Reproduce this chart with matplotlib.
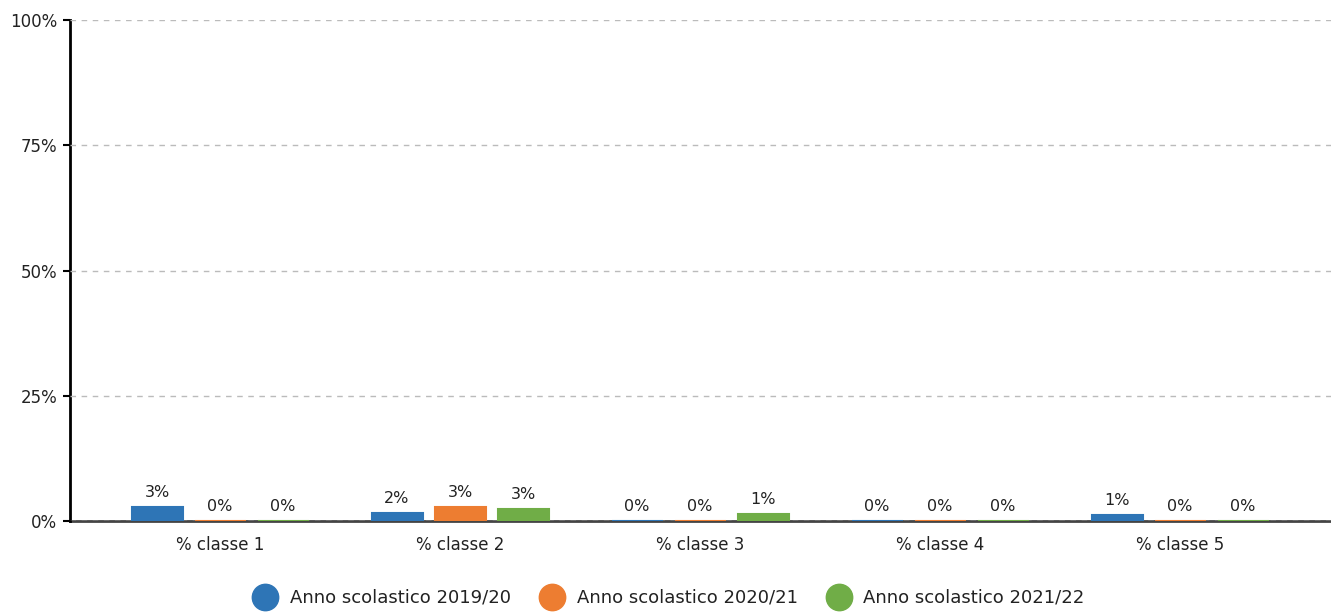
import matplotlib
matplotlib.use("Agg")
import matplotlib.pyplot as plt
from matplotlib.lines import Line2D
import numpy as np

categories = ["% classe 1", "% classe 2", "% classe 3", "% classe 4", "% classe 5"]
series_names = ["Anno scolastico 2019/20", "Anno scolastico 2020/21", "Anno scolastico 2021/22"]
values_2019 = [2.8, 1.6, 0, 0, 1.2]
values_2020 = [0, 2.8, 0, 0, 0]
values_2021 = [0, 2.4, 1.4, 0, 0]
labels_2019 = ["3%", "2%", "0%", "0%", "1%"]
labels_2020 = ["0%", "3%", "0%", "0%", "0%"]
labels_2021 = ["0%", "3%", "1%", "0%", "0%"]
yticks = [0, 25, 50, 75, 100]
ytick_labels = ["0%", "25%", "50%", "75%", "100%"]
colors = ["#2E75B6", "#ED7D31", "#70AD47"]

plt.rcParams['font.family'] = ['DejaVu Sans']
fig = plt.figure(figsize=(13.31, 6.12), dpi=100)
W, H = 1331, 612
ax = fig.add_axes([70 / W, 1 - 521 / H, (1331 - 70) / W, (521 - 20) / H])

x = np.arange(len(categories))
bw = 0.2125
step = 0.2625
all_vals = [values_2019, values_2020, values_2021]
all_labels = [labels_2019, labels_2020, labels_2021]
for i, (vals, labs, c) in enumerate(zip(all_vals, all_labels, colors)):
    pos = x + (i - 1) * step
    bars = ax.bar(pos, vals, width=bw, color=c, edgecolor=c, linewidth=1.5, zorder=3)
    for b, lab in zip(bars, labs):
        ax.annotate(lab, (b.get_x() + b.get_width() / 2, b.get_height()),
                    xytext=(0, 5), textcoords="offset points",
                    ha="center", va="bottom", fontsize=11.5, color="#222222", zorder=4)

ax.set_xlim(-0.625, 4.629)
ax.set_ylim(0, 100)
ax.set_yticks(yticks)
ax.set_yticklabels(ytick_labels, fontsize=12, color="#222222")
ax.set_xticks(x)
ax.set_xticklabels(categories, fontsize=12, color="#222222")
ax.tick_params(axis="x", length=0, pad=11)
ax.tick_params(axis="y", length=5, width=1.5, color="black", pad=4)
ax.yaxis.grid(True, linestyle=(0, (4, 4)), color="#bbbbbb", linewidth=1, zorder=5)
ax.set_axisbelow(False)
for s in ["top", "right"]:
    ax.spines[s].set_visible(False)
ax.spines["left"].set_linewidth(2)
ax.spines["left"].set_color("black")
ax.spines["bottom"].set_linewidth(2)
ax.spines["bottom"].set_color("#444444")
ax.spines["bottom"].set_zorder(2)

handles = [Line2D([0], [0], marker="o", linestyle="none", markersize=19,
                  markerfacecolor=c, markeredgecolor=c) for c in colors]
fig.legend(handles, series_names, loc="center", bbox_to_anchor=(666 / W, 1 - 598 / H),
           ncol=3, frameon=False, fontsize=13, handletextpad=0.35, columnspacing=1.3,
           labelcolor="#222222")

fig.savefig("out.png", dpi=100)
